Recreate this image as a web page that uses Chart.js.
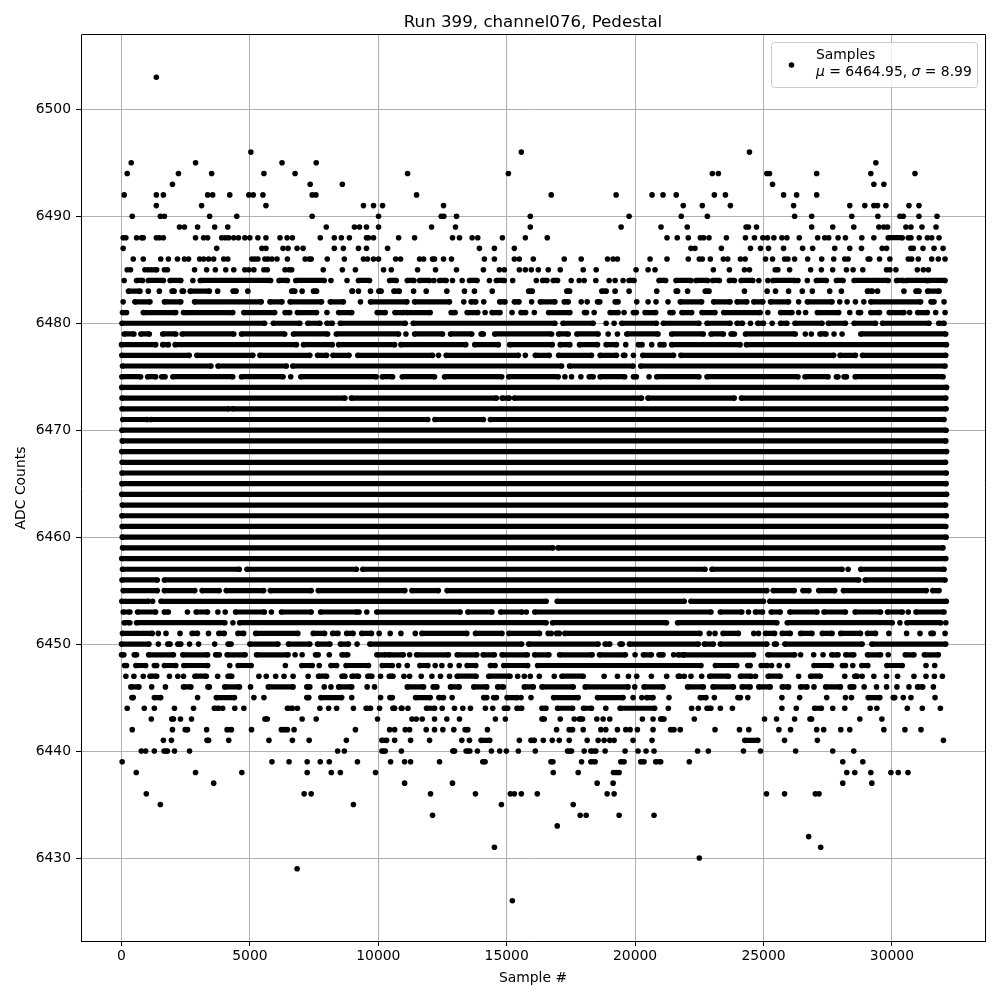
<!DOCTYPE html>
<html>
<head>
<meta charset="utf-8">
<style>body{margin:0;background:#fff}canvas{display:block}</style>
<script src="https://cdn.jsdelivr.net/npm/chart.js@4"></script>
</head>
<body>
<canvas id="chart" width="1000" height="1000"></canvas>
<script>
// samples per ADC level: a number is one dot, [a,b] is an unbroken run of dots
const upperTail = [
  [6503,[1357]],
  [6496,[5037,15570,24453]],
  [6495,[378,2884,6251,7582,29375]],
  [6494,[222,2218,3510,5546,6760,11140,15065,23008,23242,25130,25234,27070,29179,30898]],
  [6493,[1984,7347,8600,25352,29297,29687]],
  [6492,[104,1357,1631,3354,3550,4215,4959,5129,5507,7425,7569,11490,16735,19260,20660,21087,21602,23086,23516,25781,26289,27070]],
  [6491,[1357,3119,5625,9422,9814,10166,12540,21875,22617,23711,26172,28359,28945,29297,29440,29765,30664,31054]],
  [6490,[418,1514,1670,3432,4489,7425,10009,12449,12552,13045,15919,19766,21797,22813,26211,26875,28437,29453,30312,30442,31054,31757]],
  [6489,[2258,2453,2962,3628,4137,7974,9070,9266,9540,10009,12073,13006,15919,19455,21009,22031,24323,24414,24727,26875,27695,28515,29492,29687,29830,30546,30742,31171,31718]],
  [6488,[65,170,587,783,848,1357,1475,1631,2884,3197,3354,3902,4045,4176,4372,4554,4802,4998,5311,5625,6173,6447,6655,7739,8287,8561,8874,9540,9618,9814,10791,11413,12889,13161,13653,13873,14832,15725,16580,21242,21641,22070,22539,22669,22878,23555,24297,24648,24974,25156,25404,25716,25911,26393,27109,27383,27539,27904,28190,28828,29297,[29856,30403],30638,30742,31062,31380,31549,31835]],
  [6487,[65,3706,5468,5625,6290,6486,6838,7073,8287,8639,9227,9540,10362,13938,14521,15298,22175,22331,23359,24492,24883,25195,25781,26523,26914,27773,28359,28815,29622,29791,30742,30833,31211,31640,31992]],
  [6486,[457,848,1527,1827,2179,2453,2610,3041,3197,3393,3589,3980,4137,5076,5194,5311,5585,5703,5859,6055,6460,7151,7308,7386,8013,8678,9422,9579,9814,10009,10675,10869,11607,11763,12112,12190,12540,12850,14132,14521,15298,15492,16036,17240,17901,18924,19144,19312,20582,21242,22070,22500,22617,22930,23437,23607,24102,24284,25078,25352,25820,25950,26211,26719,27265,27734,28164,28294,29075,29140,29518,29921,30638,30768,31028,31549,31809,32070]],
  [6485,[222,352,913,1044,1175,1305,1370,1670,1788,2845,3315,3654,4059,4372,4802,4959,5155,5546,5677,6368,6525,6629,7856,8600,9109,10205,10506,11529,12229,13045,14093,14715,14909,15492,15725,15958,16230,16619,17085,17979,18484,20038,20504,20776,23047,23672,24258,24453,25456,25560,26016,26836,27252,27695,28229,28489,28867,29791,29921,30156,30989,31224,31419]]
];
const coreRows = [
  [6484,[104,[587,822],[1044,1631],[1892,2310],2780,[3067,5807],[6134,6460],[6786,7895],8156,8783,[9227,9657],[10440,10700],[11128,11387],[11607,11996],12164,[12384,12643],12889,13265,[13550,13847],14327,[14599,14909],15233,16153,[16399,16567],[16813,16981],17512,17823,18017,18470,18989,19222,19533,[19766,19960],[20931,21190],[21592,22175],[22370,22826],[23021,23281],[23672,23867],[24128,24583],24818,25169,[25365,26211],26341,26706,[27057,27448],[27838,28099],[28528,29856],[30182,30442],[30572,31354],[31419,32070]]],
  [6483,[[274,718],1044,1475,[1971,2049],[2362,2414],[2675,3419],3745,[4346,4463],4920,[6629,6746],7034,[7477,7595],[8979,8990],9227,9696,[10022,10110],[10610,10817],11374,11866,12669,13355,13744,14437,[15855,15997],[17344,17450],[18704,18872],19222,19766,20841,[21600,21654],22044,[22734,22878],24258,25143,25469,25976,26510,26901,27578,28034,[29049,29232],29440,30468,[30938,31054],[31393,31835]]],
  [6482,[65,[522,1109],[1670,2310],[2845,5442],[5781,6251],[6564,7791],[8130,8639],9305,[9696,11115],[11413,12773],13329,[13614,13796],14106,[14728,14935],[15298,15479],15971,[16308,16878],[17240,17396],17901,18134,[18535,18626],[19222,19338],20063,20504,20815,21281,[21758,22591],[23060,23698],[23970,24349],[24622,24974],[25273,25976],26367,[26706,27669],27968,28255,28580,28906,[29179,31120],[31523,31640],32031]],
  [6481,[[39,196],[848,2114],[2414,4333],[4763,5964],[6368,6551],[6851,7595],8000,[8456,8965],[9957,10270],[10649,10973],[11100,12021],[12837,12993],[13459,13873],14158,[14430,14741],15207,[15557,15738],16075,[16632,17460],[18030,18108],18406,[19027,19339],19571,[19934,20050],[20387,20802],[21358,21475],[21823,22201],[22604,23112],[23451,24870],25169,[25664,26107],26367,26640,[27096,27929],28359,[28698,28780],[29179,29518],[29895,30468],30690,[31002,31380],31705,32070]],
  [6480,[[20,5572],[5912,6943],[7256,7726],[8000,8208],[8522,11050],[11361,16878],[17189,18367],18872,19183,[19481,20828],[21100,22487],[22800,23698],[23970,24180],24492,[24779,25000],25339,[25664,25911],[26224,27278],[27526,28190],[28528,29362],[29635,31445],[31823,32031]]],
  [6479,[[104,483],[757,1083],[1605,2114],[2362,4372],[4672,6355],[6695,8026],[8365,10791],11076,[11413,12501],[12812,13640],[14003,14090],[14534,16748],[17020,17396],[17732,18561],18950,19312,[19675,20892],[21423,22656],[22956,23437],[23737,23867],[24297,26237],26627,26862,[27200,27435],27747,28060,[28789,32096]]],
  [6478,[[0,1331],[1605,1827],[2088,6812],[7086,8208],[8456,10636],[10882,13407],[13757,14676],[15117,16774],[17085,17460],[17836,18535],[18872,19274],19636,[20128,20271],20646,[20970,21125],[21423,24088],[24336,32122]]],
  [6477,[[13,2636],[2936,5116],[5390,7334],[7634,7987],[8234,8861],[9200,12112],12345,[12643,15453],15725,[16114,16658],[17020,18302],[18639,19274],[19546,19600],19934,[20297,21498],[21784,27734],[27982,28580],[28854,32096]]],
  [6476,[[39,3484],[3758,6421],[6668,17137],[17447,19921],[20219,32070]]],
  [6475,[[13,744],[1018,1331],[1566,1697],[2000,4333],[4672,6290],6590,[6982,9918],[10153,10558],[10933,12190],[12579,14806],[15078,17007],17266,17525,17888,[18212,18367],[18639,19597],[19934,20050],20543,[20841,22487],[22800,26341],[26614,27513],[27838,27900],[28138,28229],[28567,31992]]],
  [6474,[[10,32130]]],
  [6473,[[20,8700],[8950,14600],[14820,15100],[15300,20250],[20500,23860],[24140,32100]]],
  [6472,[[20,4180],[4320,32110]]],
  [6471,[[50,1000],[1150,11930],[12203,14093],[14365,32031]]],
  [6470,[[15,32110]]],
  [6469,[[30,32100]]],
  [6468,[[10,32130]]],
  [6467,[[25,32090]]],
  [6466,[[20,32120]]],
  [6465,[[15,32110]]],
  [6464,[[10,32130]]],
  [6463,[[30,32090]]],
  [6462,[[15,32120]]],
  [6461,[[25,32100]]],
  [6460,[[30,32110]]],
  [6459,[[40,16800],[17000,31990]]],
  [6458,[[10,32100]]],
  [6457,[[39,4587],[4886,9147],[9394,22721],[22995,28059],28294,[28788,32030]]],
  [6456,[[20,1394],[1668,28710],[28958,32070]]],
  [6455,[[65,1394],[1668,2853],[3140,3805],[4078,5537],[5798,7388],[7661,11036],[11310,12339],[12678,25130],[25377,26197],[26536,26770],[27150,27773],[28112,31340],[31588,31835]]],
  [6454,[[13,1042],1212,[1538,16536],[16967,21914],[22174,25000],[25247,32120]]],
  [6453,[[65,326],[625,1329],[1668,1824],2567,[2906,3349],3753,4039,[4443,5564],5837,[6228,7388],[7753,9160],9251,9551,[9942,13187],[13487,14425],[14763,15597],15766,[16092,22955],[23320,24153],24414,[24687,24961],[25299,25651],[26028,27083],[27356,28190],[28567,29557],[29831,30403],30637,[30937,32030]]],
  [6452,[[104,326],[586,4026],4339,[4600,16536],[16784,21224],[21654,25521],[25924,30013],30312,[30585,31900],32100]],
  [6451,[[39,1199],1433,1733,2280,[2749,2958],3388,[3792,4000],[4534,4756],[5225,6867],[7466,7909],[8222,8430],[8769,9017],[9356,9733],10033,10463,10880,11440,[11700,13447],[13786,14815],[15089,16276],16615,16732,[16940,17050],[17266,22526],22890,23112,[23424,24023],24622,24804,[25078,25430],[25729,26041],[26445,26887],[27291,27669],[28007,28775],[29049,29362],29882,30572,31093,[31523,31610],32070]],
  [6450,[[0,1070],1435,[1801,1892],[2192,2310],2649,3001,3628,[4150,4267],[4998,6094],[6499,7334],[7634,8117],[8522,8835],9174,[9670,15583],[15855,18561],[18833,19014],[19416,19500],[19779,22461],[22695,23047],[23320,25130],[25430,25500],[25833,28841],[29218,32096]]],
  [6449,[[0,91],[496,587],[1057,2023],[2388,3354],[3667,3810],[4111,4815],[5259,6486],6760,7034,[7556,7660],8091,[8587,8809],[9945,10283],[10401,10973],11219,[11490,12734],[13071,13835],[14080,14521],[14819,15803],[16088,16645],[17059,18328],[18613,19623],19999,[20323,20633],[20931,21087],21501,[21680,21888],[21888,24610],[25169,26211],26445,26953,27318,[27656,27903],[28203,28515],[29049,29557],29856,[30520,30859],[31263,31810]]],
  [6448,[[117,196],[561,940],[1279,1370],[1670,2114],[2427,3354],4215,[4541,5050],6381,[7021,7426],7700,[8156,8378],[8744,9618],[10153,10545],10791,11128,[11620,11931],12216,12475,12799,13148,[13459,13796],[14365,14547],[14884,15816],[16204,22565],[23125,23958],[24388,24479],[24909,25143],25313,25612,25937,[26966,27643],[28073,28190],28476,[28828,29062],[29804,30403],31328,31666]]
];
const lowerTail = [
  [6447,[170,483,848,[1109,1370],1866,2192,2414,[2858,3302],3745,[4150,4293],5351,5638,6003,6329,6682,7269,[7673,7987],[8587,8700],[8979,9227],[9592,9748],10088,[10427,10571],10998,11219,11672,12086,12423,12773,[13071,13809],[14301,15130],15427,15686,15919,16269,16852,[17150,17979],18794,19312,19740,20063,20633,21229,[21682,21750],21914,22175,22591,[22904,23633],[24102,24518],24688,[25182,25651],26367,[26836,27213],28164,[28554,28650],28841,29297,29791,30221,30859,31328,31653,31966]],
  [6446,[[365,679],1175,1710,[2414,2701],[3367,3420],[4019,4594],5024,[5716,6682],[7217,7334],7895,8156,[8456,8965],9566,9853,[11128,11763],[12138,12281],[12812,13148],[13718,14223],[14650,14870],[15686,16036],[16373,17590],[18056,19727],19986,[20348,21087],[22045,22656],[23034,23828],[24167,24479],[24818,25260],[25729,25976],[26445,26692],26966,[27422,27994],[28372,28515],28919,29401,29791,30195,30664,[31000,31198],31614]],
  [6445,[[405,457],[1279,1527],2962,[3693,4398],5155,5546,[7217,7295],[7764,8574],8965,10088,[10453,10545],[11452,12021],[12358,12540],12876,[14106,14223],[14495,14600],[15013,15401],15557,15945,[16826,17784],[18535,19533],19921,20258,[20452,20698],21320,[22539,22760],23086,[24003,24100],24388,25716,26406,27461,28190,28424,[29075,29531],[30052,30110],30442,30742,31679]],
  [6444,[222,887,1279,2062,2806,[3615,3785],3941,4411,4763,[6460,6655],6851,7726,8065,8378,9031,[9527,9696],10049,[10570,10636],10897,10610,10921,11154,[11879,12190],12488,12967,13291,13589,14171,14456,[14909,15039],[15401,15583],[16373,16528],[16981,17564],[17992,18302],18859,[19416,20763],21294,22201,22461,[22800,22950],23320,23789,25716,26276,[26992,27252],27695,28164,29153,29414,30599,31184,31888]],
  [6443,[1161,[1958,2023],2297,2727,[5585,5677],7034,7582,9970,11310,11480,11710,12190,12669,13161,14560,14948,[16373,16463],17085,17629,[17823,17953],18509,18755,19014,20284,20698,[20996,21125],22305,25039,25508,26211,[26810,26875],28750,29609]],
  [6442,[418,1984,[2480,2571],3315,[4111,4280],5063,[6225,6355],6460,6721,9109,10440,10636,11050,11219,11866,12190,12514,12941,[13381,13485],14249,16943,[17434,17564],17979,18665,18859,19312,19636,19805,20089,20698,[21384,21514],21758,23112,24063,24427,25599,26054,27070,27344,28008,28359,29687,30508,31132]],
  [6441,[1631,1944,[3328,3393],4176,5742,6655,7308,8757,[10140,10323],10636,11257,11996,13252,13550,[14003,14340],15492,[15945,16075],16425,16774,17046,17434,18134,18561,18794,19014,19183,19921,20660,[24271,24779],25820,27096,32005]],
  [6440,[770,940,1279,[1657,1788],2062,2649,8417,8678,[10140,10270],10900,[12902,12970],[13420,13563],13860,14404,14728,14987,15453,16114,[17370,17525],18017,[18276,18470],18833,19610,20115,20426,20737,22435,22852,24219,24883,26250,27695,28515]],
  [6439,[26,5859,6525,7230,7739,8091,9187,10479,11024,11257,12384,[14068,14158],[16723,16800],17914,[18276,18444],[19442,19571],[20219,20348],[20802,20996],22110,28086,28867]],
  [6438,[574,2884,4685,7230,8169,8522,9892,16813,17784,19157,19273,19377,28242,28554,29179,29961,30247,30625]],
  [6437,[3589,11024,12889,18522,19144,28086,29218]],
  [6436,[966,7112,7386,12034,13783,15142,15298,15570,16191,18911,19183,25117,25820,27018,27161]],
  [6435,[1514,9031,14793,17590]],
  [6434,[12112,17862,18095,19377,20737]],
  [6433,[16968]],
  [6432,[26758]],
  [6431,[14521,27226]],
  [6430,[22500]],
  [6429,[6838]],
  [6426,[15220]]
];
const seriesLabel = 'Samples';
const xTicks = [0, 5000, 10000, 15000, 20000, 25000, 30000];
const yTicks = [6430, 6440, 6450, 6460, 6470, 6480, 6490, 6500];

function buildPoints() {
  const pts = [];
  const gap = {x: NaN, y: NaN};
  upperTail.concat(coreRows, lowerTail).forEach(function (row) {
    row[1].forEach(function (item) {
      if (Array.isArray(item)) {
        pts.push({x: item[0], y: row[0]}, {x: item[1], y: row[0]});
      } else {
        pts.push({x: item, y: row[0]});
      }
      pts.push(gap);
    });
  });
  return pts;
}

// top and right frame lines, then the matplotlib style legend box on top of everything
const legendBox = {
  id: 'legendBox',
  afterDraw(chart) {
    const ctx = chart.ctx;
    const a = chart.chartArea;
    ctx.save();
    ctx.beginPath();
    ctx.moveTo(Math.round(a.left) + 0.5, Math.round(a.top) - 0.5);
    ctx.lineTo(Math.round(a.right) + 0.5, Math.round(a.top) - 0.5);
    ctx.lineTo(Math.round(a.right) + 0.5, Math.round(a.bottom));
    ctx.strokeStyle = '#000';
    ctx.lineWidth = 1;
    ctx.stroke();
    ctx.beginPath();
    ctx.roundRect(771.5, 42.5, 206, 45, 3);
    ctx.fillStyle = 'rgba(255,255,255,0.8)';
    ctx.fill();
    ctx.strokeStyle = '#cccccc';
    ctx.stroke();
    ctx.beginPath();
    ctx.arc(791.5, 65, 2.8, 0, Math.PI * 2);
    ctx.fillStyle = '#000';
    ctx.fill();
    ctx.textBaseline = 'alphabetic';
    ctx.font = '13.9px "DejaVu Sans"';
    ctx.fillText(seriesLabel, 816, 59);
    let x = 816;
    const parts = [['italic', '\u03bc'], ['normal', ' = 6464.95, '], ['italic', '\u03c3'], ['normal', ' = 8.99']];
    parts.forEach(function (p) {
      ctx.font = p[0] + ' 13.9px "DejaVu Sans"';
      ctx.fillText(p[1], x, 76);
      x += ctx.measureText(p[1]).width;
    });
    ctx.restore();
  }
};

const tickFont = {family: '"DejaVu Sans"', size: 13.9};

function setTicks(values) {
  return function (scale) {
    scale.ticks = values.map(v => ({value: v}));
  };
}

new Chart(document.getElementById('chart'), {
  type: 'scatter',
  data: {
    datasets: [{
      label: seriesLabel,
      data: buildPoints(),
      showLine: true,
      spanGaps: false,
      borderColor: '#000',
      borderWidth: 5.2,
      backgroundColor: '#000',
      pointRadius: 2.8,
      pointBorderWidth: 0,
      pointHoverRadius: 2.8
    }]
  },
  plugins: [legendBox],
  options: {
    responsive: false,
    animation: false,
    events: [],
    layout: {padding: {right: 15, left: 0, top: 0, bottom: 0}},
    plugins: {
      legend: {display: false},
      tooltip: {enabled: false},
      title: {
        display: true,
        fullSize: false,
        text: 'Run 399, channel076, Pedestal',
        color: '#000',
        font: {family: '"DejaVu Sans"', size: 16.67, weight: 'normal'},
        padding: {top: 13, bottom: 2}
      }
    },
    scales: {
      x: {
        type: 'linear',
        min: -1577,
        max: 33625,
        afterBuildTicks: setTicks(xTicks),
        afterFit(scale) { scale.height = 59; },
        title: {display: true, text: 'Sample #', color: '#000', font: tickFont, padding: {top: 0, bottom: 13}},
        ticks: {autoSkip: false, color: '#000', font: tickFont, padding: 2, maxRotation: 0, callback: v => String(v)},
        grid: {color: '#b0b0b0', lineWidth: 1, tickColor: '#000', tickLength: 5},
        border: {color: '#000', width: 1}
      },
      y: {
        type: 'linear',
        min: 6422.24,
        max: 6506.95,
        afterBuildTicks: setTicks(yTicks),
        afterFit(scale) { scale.width = 81; },
        title: {display: true, text: 'ADC Counts', color: '#000', font: tickFont, padding: {top: 13, bottom: 0}},
        ticks: {autoSkip: false, color: '#000', font: tickFont, padding: 5, callback: v => String(v)},
        grid: {color: '#b0b0b0', lineWidth: 1, tickColor: '#000', tickLength: 5},
        border: {color: '#000', width: 1}
      }
    }
  }
});
</script>
</body>
</html>
